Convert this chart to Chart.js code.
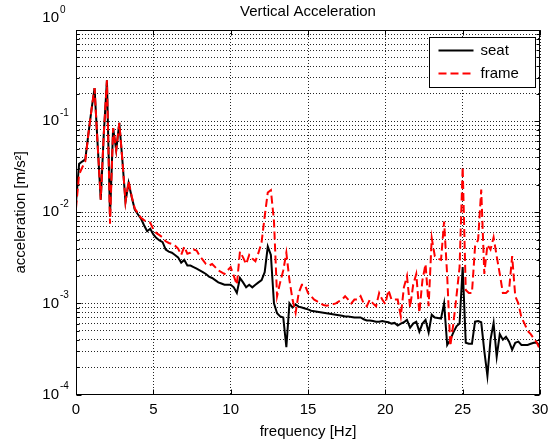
<!DOCTYPE html>
<html>
<head>
<meta charset="utf-8">
<script src="https://cdn.jsdelivr.net/npm/chart.js@4.4.1/dist/chart.umd.min.js"></script>
<style>
  html, body { margin: 0; padding: 0; background: #fff; }
  #wrap { width: 560px; height: 445px; }
</style>
</head>
<body>
<div id="wrap"><canvas id="chart"></canvas></div>
<script>
// sampled every 0.2 Hz, 0 .. 30 Hz
const FREQ_STEP = 0.2;

const seat = [
    0.0127, 0.034, 0.036, 0.038, 0.072, 0.133, 0.23, 0.055, 0.0137, 0.074,
    0.28, 0.009, 0.084, 0.048, 0.096, 0.037, 0.013, 0.021, 0.0147, 0.0107,
    0.0095, 0.0085, 0.0072, 0.0062, 0.0066, 0.0057, 0.0052, 0.0049, 0.0047, 0.0039,
    0.0037, 0.0036, 0.0034, 0.0032, 0.0028, 0.003, 0.0026, 0.0026, 0.0025, 0.0024,
    0.0023, 0.0022, 0.0021, 0.00197, 0.0019, 0.0018, 0.0017, 0.00165, 0.0016, 0.0016,
    0.0016, 0.0015, 0.0013, 0.0019, 0.0017, 0.0015, 0.0016, 0.0015, 0.0016, 0.0017,
    0.0018, 0.0022, 0.0042, 0.0034, 0.001, 0.00078, 0.00072, 0.0007, 0.00033, 0.001,
    0.0009, 0.00097, 0.00092, 0.0009, 0.00088, 0.00086, 0.00083, 0.00082, 0.00081, 0.0008,
    0.00079, 0.00078, 0.00077, 0.00076, 0.00075, 0.00074, 0.00073, 0.00072, 0.00072, 0.00071,
    0.0007, 0.0007, 0.0007, 0.00067, 0.00065, 0.00065, 0.00064, 0.00063, 0.00063, 0.00064,
    0.00063, 0.00062, 0.0006, 0.00061, 0.00057, 0.0006, 0.00062, 0.00066, 0.00054, 0.0006,
    0.00063, 0.00049, 0.0006, 0.00066, 0.00048, 0.00075, 0.0007, 0.00069, 0.00068, 0.001,
    0.00035, 0.0004, 0.00048, 0.00056, 0.0006, 0.0025, 0.00037, 0.00036, 0.00036, 0.00063,
    0.00064, 0.00062, 0.0003, 0.00016, 0.0004, 0.00061, 0.00026, 0.00046, 0.0004, 0.00043,
    0.00038, 0.00031, 0.00037, 0.00038, 0.00035, 0.00035, 0.00035, 0.00036, 0.00037, 0.00037,
    0.00034
];

const frame = [
    0.011, 0.026, 0.031, 0.036, 0.072, 0.133, 0.23, 0.055, 0.0137, 0.074,
    0.28, 0.0075, 0.084, 0.048, 0.096, 0.037, 0.013, 0.022, 0.015, 0.011,
    0.0098, 0.0087, 0.0082, 0.0078, 0.0077, 0.0065, 0.0059, 0.0056, 0.0053, 0.0048,
    0.0046, 0.0045, 0.0043, 0.004, 0.0034, 0.0042, 0.0035, 0.0036, 0.0039, 0.0038,
    0.0033, 0.003, 0.0027, 0.0026, 0.0027, 0.0025, 0.0023, 0.0022, 0.0021, 0.0023,
    0.0025, 0.002, 0.0016, 0.0037, 0.0032, 0.0027, 0.0034, 0.0031, 0.0029, 0.0036,
    0.0047, 0.009, 0.0165, 0.0175, 0.008, 0.0012, 0.0017, 0.0023, 0.0036, 0.0018,
    0.0011, 0.00079, 0.0013, 0.0016, 0.0016, 0.0013, 0.0012, 0.0011, 0.00105, 0.001,
    0.00096, 0.00094, 0.00096, 0.00098, 0.001, 0.00105, 0.0011, 0.0012, 0.0011, 0.001,
    0.0011, 0.0011, 0.0012, 0.001, 0.00093, 0.0011, 0.001, 0.00093, 0.0013, 0.0011,
    0.00098, 0.0014, 0.0011, 0.0011, 0.0011, 0.00072, 0.0015, 0.002, 0.0009, 0.0016,
    0.0021, 0.00079, 0.0018, 0.0027, 0.00093, 0.0052, 0.0033, 0.0031, 0.003, 0.0079,
    0.002, 0.00034, 0.0006, 0.0012, 0.0025, 0.0316, 0.0014, 0.0013, 0.0013, 0.0042,
    0.005, 0.0177, 0.0021, 0.0044, 0.0039, 0.0053, 0.0033, 0.0021, 0.0013, 0.0013,
    0.0014, 0.0033, 0.0012, 0.001, 0.0007, 0.0006, 0.0005, 0.00046, 0.00041, 0.00037,
    0.00031
];

const freq = seat.map((_, i) => +(i * FREQ_STEP).toFixed(1));
const xTicks = [0, 5, 10, 15, 20, 25, 30];
const yExponents = [-4, -3, -2, -1, 0];

const FONT = "'Liberation Sans', Arial, Helvetica, sans-serif";
Chart.defaults.font.family = FONT;
Chart.defaults.color = '#000';

// log ticks at 1..9 x 10^e, like matlab's minor grid
function logTicks() {
    const out = [];
    yExponents.forEach(e => {
        if (e === 0) { out.push({ value: 1, major: true }); return; }
        for (let m = 1; m <= 9; m++) out.push({ value: m * Math.pow(10, e), major: m === 1 });
    });
    return out;
}

// ── Box, inner ticks, labels, title, legend ──
const deco = {
    id: 'deco',
    afterDraw(chart) {
        const { ctx, chartArea: a, scales: { x, y } } = chart;
        const L = Math.round(a.left) + 0.5, R = Math.round(a.right) - 0.5;
        const T = Math.round(a.top) + 0.5, B = Math.round(a.bottom) - 0.5;
        ctx.save();
        ctx.strokeStyle = '#000';
        ctx.lineWidth = 1;
        ctx.setLineDash([]);
        ctx.strokeRect(L, T, R - L, B - T);

        ctx.beginPath();
        y.ticks.forEach(t => {
            const py = Math.round(y.getPixelForValue(t.value)) + 0.5;
            const len = t.major ? 5 : 3;
            ctx.moveTo(L, py); ctx.lineTo(L + len, py);
            ctx.moveTo(R, py); ctx.lineTo(R - len, py);
        });
        xTicks.forEach(v => {
            const px = Math.round(x.getPixelForValue(v)) + 0.5;
            ctx.moveTo(px, B); ctx.lineTo(px, B - 5);
            ctx.moveTo(px, T); ctx.lineTo(px, T + 5);
        });
        ctx.stroke();

        // y labels 10^e
        ctx.fillStyle = '#000';
        yExponents.forEach(e => {
            const py = y.getPixelForValue(Math.pow(10, e));
            const cy = e === 0 ? py - 12 : py;
            ctx.font = '15px ' + FONT;
            ctx.textAlign = 'right';
            ctx.textBaseline = 'middle';
            ctx.fillText('10', 59, cy);
            ctx.font = '10px ' + FONT;
            ctx.textAlign = 'left';
            ctx.fillText(String(e), 60, cy - 8);
        });

        // y title
        ctx.save();
        ctx.translate(21, (a.top + a.bottom) / 2);
        ctx.rotate(-Math.PI / 2);
        ctx.font = '15px ' + FONT;
        ctx.textAlign = 'center';
        ctx.textBaseline = 'middle';
        ctx.fillText('acceleration [m/s\u00b2]', 0, 0);
        ctx.restore();

        // title
        ctx.font = '15px ' + FONT;
        ctx.textAlign = 'center';
        ctx.textBaseline = 'middle';
        ctx.fillText('Vertical Acceleration', (a.left + a.right) / 2, 12);

        // legend
        const bx = 429.5, by = 37.5, bw = 106, bh = 50;
        ctx.fillStyle = '#fff';
        ctx.fillRect(bx, by, bw, bh);
        ctx.strokeStyle = '#000';
        ctx.lineWidth = 1;
        ctx.strokeRect(bx, by, bw, bh);
        chart.data.datasets.forEach((ds, i) => {
            const ry = by + 13 + i * 23;
            ctx.beginPath();
            ctx.strokeStyle = ds.borderColor;
            ctx.lineWidth = ds.borderWidth;
            ctx.setLineDash(ds.borderDash || []);
            ctx.moveTo(bx + 9, ry);
            ctx.lineTo(bx + 44, ry);
            ctx.stroke();
            ctx.setLineDash([]);
            ctx.fillStyle = '#000';
            ctx.font = '15px ' + FONT;
            ctx.textAlign = 'left';
            ctx.textBaseline = 'middle';
            ctx.fillText(ds.label, bx + 51, ry);
        });
        ctx.restore();
    }
};

const gridLine = {
    color: 'rgba(0,0,0,0.85)',
    lineWidth: 1,
    drawTicks: false,
};

new Chart(document.getElementById('chart'), {
    type: 'line',
    data: {
        datasets: [
            {
                label: 'seat',
                data: seat.map((v, i) => ({ x: freq[i], y: v })),
                borderColor: '#000000',
                borderWidth: 2,
                pointRadius: 0,
                tension: 0,
                fill: false,
                order: 2,
            },
            {
                label: 'frame',
                data: frame.map((v, i) => ({ x: freq[i], y: v })),
                borderColor: '#ff0000',
                borderWidth: 2,
                borderDash: [8, 4],
                pointRadius: 0,
                tension: 0,
                fill: false,
                order: 1,
            }
        ]
    },
    options: {
        responsive: true,
        maintainAspectRatio: false,
        animation: false,
        layout: { padding: { top: 30, right: 20, left: 0, bottom: 0 } },
        plugins: {
            legend: { display: false },
            title: { display: false },
            tooltip: { enabled: false },
        },
        scales: {
            x: {
                type: 'linear',
                min: 0,
                max: 30,
                afterBuildTicks: s => { s.ticks = xTicks.map(v => ({ value: v })); },
                ticks: { font: { size: 15 }, padding: 6, maxRotation: 0 },
                grid: gridLine,
                border: { display: false, dash: [1, 2] },
                title: { display: true, text: 'frequency [Hz]', font: { size: 15 }, padding: { top: 2, bottom: 4 } },
                afterFit: s => { s.height = 50.5; },
            },
            y: {
                type: 'logarithmic',
                min: 1e-4,
                max: 1,
                afterBuildTicks: s => { s.ticks = logTicks(); },
                ticks: { display: false },
                grid: gridLine,
                border: { display: false, dash: [1, 2] },
                afterFit: s => { s.width = 76; },
            }
        }
    },
    plugins: [deco]
});
</script>
</body>
</html>
